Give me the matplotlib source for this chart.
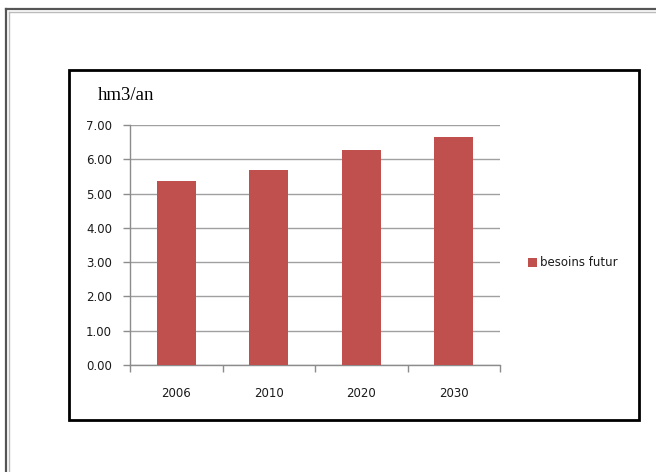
import matplotlib
matplotlib.use("Agg")
import matplotlib.pyplot as plt
from matplotlib.patches import Rectangle
from matplotlib.lines import Line2D

years = ["2006", "2010", "2020", "2030"]
besoins = [5.37, 5.70, 6.27, 6.65]
yticks = [0, 1, 2, 3, 4, 5, 6, 7]

BAR_RED = "#C0504D"
AXIS_GRAY = "#8C8C8C"
TEXT = "#1A1A1A"

W, H = 656, 472
fig = plt.figure(figsize=(W / 100, H / 100), dpi=100)
fig.patch.set_facecolor("white")


def fx(px):
    return px / W


def fy(py):
    return 1 - py / H


# outer page frame (runs off the right and bottom edges)
for off, col, lw in [(0, "#555555", 1.6), (2.5, "#BBBBBB", 1.0)]:
    fig.add_artist(Line2D([fx(6 + off), fx(6 + off)], [fy(9 + off), fy(480)],
                          color=col, lw=lw, transform=fig.transFigure))
    fig.add_artist(Line2D([fx(6 + off), fx(660)], [fy(9 + off), fy(9 + off)],
                          color=col, lw=lw, transform=fig.transFigure))

# chart box
fig.add_artist(Rectangle((fx(69), fy(420)), fx(639) - fx(69), fy(70) - fy(420),
                         fill=False, edgecolor="black", lw=2.0,
                         transform=fig.transFigure))

ax = fig.add_axes([fx(130), fy(365), fx(500) - fx(130), fy(125) - fy(365)])
x = list(range(len(years)))
ax.bar(x, besoins, width=0.42, color=BAR_RED, zorder=3, label="besoins futur")

ax.set_ylim(0, 7)
ax.set_xlim(-0.5, len(years) - 0.5)
ax.set_yticks(yticks)
ax.set_yticklabels([f"{v:.2f}" for v in yticks], fontsize=8.5, color=TEXT)
ax.set_xticks(x)
ax.set_xticklabels(years, fontsize=8.5, color=TEXT)
ax.set_xticks([i - 0.5 for i in range(len(years) + 1)], minor=True)
ax.tick_params(axis="x", which="major", length=0, pad=16)
ax.tick_params(axis="x", which="minor", length=5, color=AXIS_GRAY, width=1)
ax.tick_params(axis="y", length=5, color=AXIS_GRAY, width=1, pad=8)

ax.grid(axis="y", color="#A0A0A0", lw=1.0, zorder=0)
for side in ("top", "right"):
    ax.spines[side].set_visible(False)
for side in ("left", "bottom"):
    ax.spines[side].set_color(AXIS_GRAY)
    ax.spines[side].set_linewidth(1.0)

fig.text(fx(98), fy(95), "hm3/an", fontsize=13.5, family="Liberation Serif",
         color="black", va="center", ha="left")

leg = fig.legend(loc="center left", bbox_to_anchor=(fx(523), fy(263)),
                 frameon=False, fontsize=8.5, handlelength=0.75, handleheight=0.75,
                 handletextpad=0.3, borderaxespad=0)
for t in leg.get_texts():
    t.set_color(TEXT)

fig.savefig("out.png", dpi=100)
